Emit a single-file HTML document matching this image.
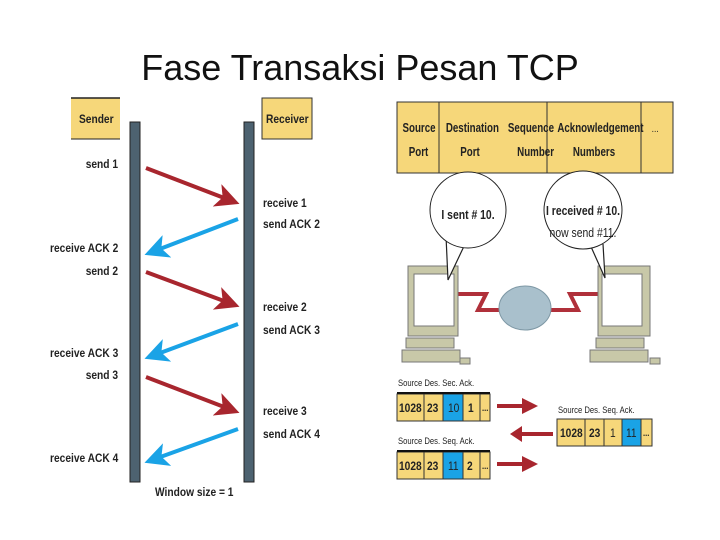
<!DOCTYPE html>
<html><head><meta charset="utf-8"><style>
body{margin:0;width:720px;height:540px;background:#fff;position:relative;overflow:hidden;font-family:"Liberation Sans",sans-serif}
.t{position:absolute;font-size:12px;font-weight:bold;color:#222;white-space:nowrap;transform:scaleX(0.85);}
.r{transform-origin:right center;text-align:right}
.l{transform-origin:left center}
.h{position:absolute;font-size:12.5px;font-weight:bold;color:#222;white-space:nowrap;transform:scaleX(0.78);transform-origin:center;text-align:center;line-height:24px}
</style></head><body>
<div style="position:absolute;left:0;width:720px;top:47px;text-align:center;font-size:36px;color:#111;padding-left:0">Fase Transaksi Pesan TCP</div>
<svg width="720" height="540" style="position:absolute;left:0;top:0">
<defs>
<marker id="ar" markerWidth="6" markerHeight="6" refX="4" refY="3" orient="auto" markerUnits="strokeWidth"><path d="M0,0 L6,3 L0,6 L1.5,3z" fill="#a8262e"/></marker>
<marker id="ab" markerWidth="6" markerHeight="6" refX="4" refY="3" orient="auto" markerUnits="strokeWidth"><path d="M0,0 L6,3 L0,6 L1.5,3z" fill="#1aa3e6"/></marker>
</defs>
<rect x="71" y="98" width="49" height="41" fill="#f6d77a"/><line x1="71" y1="98" x2="120" y2="98" stroke="#222" stroke-width="1.5"/><line x1="71" y1="139" x2="120" y2="139" stroke="#222"/>
<rect x="262" y="98" width="50" height="41" fill="#f6d77a" stroke="#333"/>
<rect x="130" y="122" width="10" height="360" fill="#4d6270" stroke="#222"/>
<rect x="244" y="122" width="10" height="360" fill="#4d6270" stroke="#222"/>
<g stroke-width="4" fill="none">
<line x1="146" y1="168" x2="232" y2="201" stroke="#a8262e" marker-end="url(#ar)"/>
<line x1="238" y1="219" x2="152" y2="252" stroke="#1aa3e6" marker-end="url(#ab)"/>
<line x1="146" y1="272" x2="232" y2="304" stroke="#a8262e" marker-end="url(#ar)"/>
<line x1="238" y1="324" x2="152" y2="356" stroke="#1aa3e6" marker-end="url(#ab)"/>
<line x1="146" y1="377" x2="232" y2="410" stroke="#a8262e" marker-end="url(#ar)"/>
<line x1="238" y1="429" x2="152" y2="460" stroke="#1aa3e6" marker-end="url(#ab)"/>
</g>
<rect x="397" y="102" width="276" height="71" fill="#f6d77a" stroke="#333"/>
<line x1="439" y1="102" x2="439" y2="173" stroke="#333"/><line x1="547" y1="102" x2="547" y2="173" stroke="#333"/><line x1="641" y1="102" x2="641" y2="173" stroke="#333"/>
<path d="M458,294 H486 L478,310 H512" stroke="#b0303a" stroke-width="4" fill="none"/>
<path d="M548,310 H578 L570,294 H598" stroke="#b0303a" stroke-width="4" fill="none"/>
<ellipse cx="525" cy="308" rx="26" ry="22" fill="#a9c0cc" stroke="#7e98a5"/>
<g fill="#c8c8a8" stroke="#777">
<rect x="408" y="266" width="50" height="70"/><rect x="414" y="274" width="40" height="52" fill="#fff"/>
<rect x="406" y="338" width="48" height="10"/><rect x="402" y="350" width="58" height="12"/><rect x="460" y="358" width="10" height="6"/>
<rect x="598" y="266" width="52" height="70"/><rect x="602" y="274" width="40" height="52" fill="#fff"/>
<rect x="596" y="338" width="48" height="10"/><rect x="590" y="350" width="58" height="12"/><rect x="650" y="358" width="10" height="6"/>
</g>
<path d="M446,236 L448,280 L466,242" fill="#fff" stroke="#222" stroke-width="1.2"/>
<circle cx="468" cy="210" r="38" fill="#fff" stroke="#222"/>
<path d="M588,240 L605,278 L603,244" fill="#fff" stroke="#222" stroke-width="1.2"/>
<circle cx="583" cy="210" r="39" fill="#fff" stroke="#222"/>
<g stroke="#333">
<rect x="397" y="394" width="27" height="27" fill="#f6d77a"/><rect x="424" y="394" width="19" height="27" fill="#f6d77a"/><rect x="443" y="394" width="20" height="27" fill="#1aa3e6"/><rect x="463" y="394" width="17" height="27" fill="#f6d77a"/><rect x="480" y="394" width="10" height="27" fill="#f6d77a"/>
<rect x="397" y="452" width="27" height="27" fill="#f6d77a"/><rect x="424" y="452" width="19" height="27" fill="#f6d77a"/><rect x="443" y="452" width="20" height="27" fill="#1aa3e6"/><rect x="463" y="452" width="17" height="27" fill="#f6d77a"/><rect x="480" y="452" width="10" height="27" fill="#f6d77a"/>
<rect x="557" y="419" width="28" height="27" fill="#f6d77a"/><rect x="585" y="419" width="19" height="27" fill="#f6d77a"/><rect x="604" y="419" width="18" height="27" fill="#f6d77a"/><rect x="622" y="419" width="19" height="27" fill="#1aa3e6"/><rect x="641" y="419" width="11" height="27" fill="#f6d77a"/>
</g>
<line x1="397" y1="393" x2="490" y2="393" stroke="#111" stroke-width="2"/><line x1="397" y1="451" x2="490" y2="451" stroke="#111" stroke-width="2"/>
<g stroke="#a8262e" stroke-width="4">
<line x1="497" y1="406" x2="526" y2="406"/><line x1="517" y1="434" x2="553" y2="434"/><line x1="497" y1="464" x2="526" y2="464"/>
</g>
<g fill="#a8262e">
<path d="M522,398 L538,406 L522,414z"/><path d="M522,426 L510,434 L522,442z"/><path d="M522,456 L538,464 L522,472z"/>
</g>
</svg>
<div class="t l" style="left:79px;top:112px">Sender</div>
<div class="t l" style="left:266px;top:112px">Receiver</div>
<div class="t r" style="right:602px;top:157px">send 1</div>
<div class="t r" style="right:602px;top:241px">receive ACK 2</div>
<div class="t r" style="right:602px;top:264px">send 2</div>
<div class="t r" style="right:602px;top:346px">receive ACK 3</div>
<div class="t r" style="right:602px;top:368px">send 3</div>
<div class="t r" style="right:602px;top:451px">receive ACK 4</div>
<div class="t l" style="left:263px;top:196px">receive 1</div>
<div class="t l" style="left:263px;top:217px">send ACK 2</div>
<div class="t l" style="left:263px;top:300px">receive 2</div>
<div class="t l" style="left:263px;top:323px">send ACK 3</div>
<div class="t l" style="left:263px;top:404px">receive 3</div>
<div class="t l" style="left:263px;top:427px">send ACK 4</div>
<div class="t l" style="left:155px;top:485px">Window size = 1</div>
<div class="h" style="left:398px;top:116px;width:41px">Source<br>Port</div>
<div class="h" style="left:439px;top:116px;width:62px">Destination<br>Port</div>
<div class="h" style="left:494px;top:116px;width:60px;text-align:right;transform-origin:right center">Sequence<br>Number</div>
<div class="h" style="left:547px;top:116px;width:94px">Acknowledgement<br>Numbers</div>
<div class="t" style="left:651px;top:124px;font-weight:normal;font-size:10px">...</div>
<div class="t" style="left:430px;top:207px;width:76px;text-align:center;transform-origin:center;font-size:13px;transform:scaleX(0.8)">I sent # 10.</div>
<div class="t" style="left:533px;top:200px;width:100px;text-align:center;line-height:22px;transform-origin:center;font-size:13px;transform:scaleX(0.8)">I received # 10.<br><span style="font-weight:normal">now send #11.</span></div>
<div class="t l" style="left:398px;top:378px;font-size:9px;font-weight:normal">Source Des. Sec. Ack.</div>
<div class="t l" style="left:398px;top:436px;font-size:9px;font-weight:normal">Source Des. Seq. Ack.</div>
<div class="t l" style="left:558px;top:405px;font-size:9px;font-weight:normal">Source Des. Seq. Ack.</div>
<div class="t l" style="left:399px;top:401px;font-size:12px">1028</div><div class="t l" style="left:427px;top:401px">23</div><div class="t l" style="left:448px;top:401px;font-weight:normal">10</div><div class="t l" style="left:468px;top:401px">1</div><div class="t l" style="left:482px;top:403px;font-size:9px">...</div>
<div class="t l" style="left:399px;top:459px;font-size:12px">1028</div><div class="t l" style="left:427px;top:459px">23</div><div class="t l" style="left:448px;top:459px;font-weight:normal">11</div><div class="t l" style="left:467px;top:459px">2</div><div class="t l" style="left:482px;top:461px;font-size:9px">...</div>
<div class="t l" style="left:560px;top:426px">1028</div><div class="t l" style="left:589px;top:426px">23</div><div class="t l" style="left:610px;top:426px;font-weight:normal">1</div><div class="t l" style="left:626px;top:426px;font-weight:normal">11</div><div class="t l" style="left:643px;top:428px;font-size:9px">...</div>
</body></html>
